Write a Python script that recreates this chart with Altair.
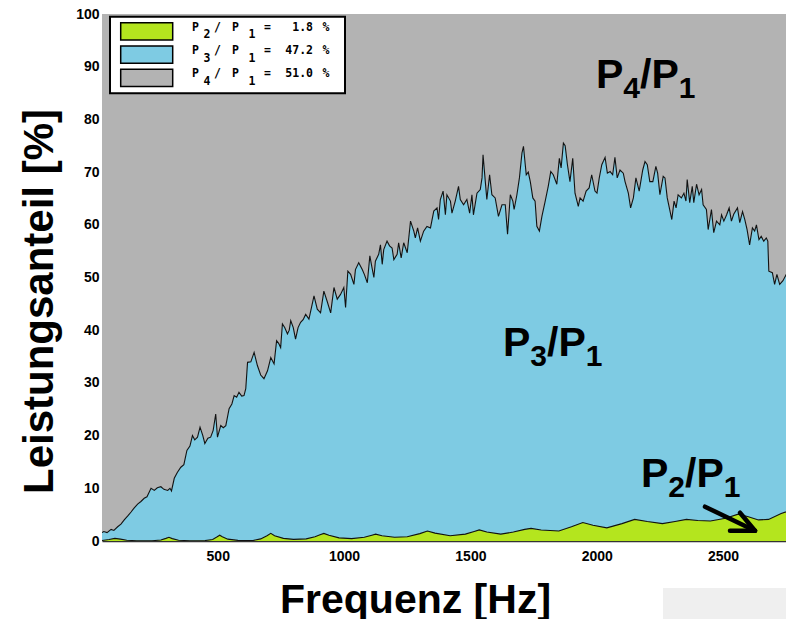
import altair as alt
import pandas as pd

# ---- data ----
# upper boundary of the P3/P1 band (cumulative P2+P3 share in %)
u_freq = [42, 49, 62, 78, 89, 104, 117, 130, 145, 157, 168, 183, 196, 209, 220, 236, 249, 261, 275, 287,
          302, 311, 317, 328, 340, 354, 366, 378, 390, 400, 409, 420, 430, 441, 449, 461, 472, 482, 492, 499,
          512, 522, 532, 545, 556, 565, 575, 584, 595, 604, 611, 618, 631, 644, 657, 670, 683, 697, 710, 723,
          733, 741, 749, 756, 765, 776, 783, 789, 799, 808, 818, 828, 838, 848, 861, 872, 881, 894, 907, 920,
          933, 947, 960, 973, 986, 999, 1006, 1015, 1026, 1039, 1045, 1058, 1072, 1081, 1092, 1102, 1110, 1118, 1124, 1137,
          1144, 1151, 1157, 1170, 1180, 1190, 1197, 1210, 1216, 1226, 1236, 1250, 1263, 1276, 1282, 1291, 1302, 1315, 1328, 1342,
          1355, 1368, 1374, 1381, 1392, 1401, 1407, 1421, 1427, 1440, 1453, 1460, 1473, 1486, 1497, 1506, 1512, 1526, 1539, 1546,
          1550, 1559, 1565, 1576, 1585, 1598, 1611, 1625, 1638, 1647, 1658, 1668, 1673, 1684, 1694, 1704, 1710, 1721, 1729, 1737,
          1747, 1756, 1763, 1773, 1783, 1796, 1808, 1818, 1828, 1842, 1852, 1859, 1868, 1875, 1884, 1894, 1905, 1914, 1927, 1934,
          1946, 1958, 1970, 1980, 1993, 2001, 2010, 2020, 2033, 2042, 2053, 2063, 2072, 2081, 2092, 2105, 2112, 2125, 2134, 2145,
          2155, 2168, 2182, 2191, 2200, 2210, 2222, 2234, 2241, 2250, 2263, 2270, 2279, 2290, 2297, 2306, 2314, 2322, 2335, 2345,
          2353, 2358, 2368, 2378, 2384, 2395, 2405, 2415, 2421, 2434, 2441, 2454, 2463, 2474, 2487, 2494, 2503, 2514, 2524, 2533,
          2542, 2557, 2566, 2577, 2586, 2595, 2605, 2616, 2625, 2632, 2642, 2651, 2661, 2671, 2677, 2681, 2695, 2704, 2713, 2724,
          2737, 2750, 2761, 2770, 2776]
u_val = [1.6, 1.8, 1.6, 2.2, 2.0, 2.7, 3.2, 4.0, 4.8, 5.5, 6.2, 7.0, 7.5, 8.1, 8.4, 10.0, 9.6, 10.1, 10.3, 9.8,
         9.6, 10.0, 9.5, 11.9, 13.0, 14.0, 14.5, 17.2, 18.0, 20.0, 19.2, 19.7, 21.6, 20.0, 18.5, 19.5, 19.7, 21.0, 24.1, 19.7,
         21.9, 21.5, 21.9, 25.1, 26.0, 27.6, 27.3, 28.2, 27.5, 27.6, 28.9, 33.9, 34.0, 35.8, 33.3, 31.5, 30.8, 32.3, 34.8, 33.6,
         38.0, 37.5, 36.7, 41.2, 40.5, 39.3, 40.0, 41.8, 40.5, 38.3, 40.5, 41.5, 42.0, 43.0, 42.1, 44.5, 46.5, 44.0, 43.3, 47.4,
         45.5, 43.3, 48.1, 45.9, 46.8, 48.1, 44.3, 51.2, 50.6, 48.7, 51.5, 52.8, 51.5, 50.5, 49.0, 54.1, 52.0, 50.0, 53.1, 54.4,
         56.2, 52.5, 55.3, 56.9, 56.0, 55.6, 53.4, 54.4, 56.6, 53.7, 56.6, 54.7, 60.7, 58.8, 57.5, 59.4, 56.9, 58.8, 59.7, 59.4,
         62.6, 63.2, 61.0, 64.8, 66.4, 61.9, 65.7, 64.5, 62.2, 64.5, 67.3, 64.8, 63.8, 64.8, 62.2, 65.7, 61.9, 66.0, 66.7, 68.9,
         73.3, 68.2, 64.8, 69.5, 65.7, 65.1, 61.6, 63.8, 63.8, 58.2, 65.7, 64.5, 62.9, 65.7, 68.9, 73.6, 74.9, 69.5, 70.0, 68.2,
         65.1, 64.5, 59.7, 58.8, 61.6, 64.5, 67.3, 70.1, 69.5, 67.7, 72.6, 70.8, 75.5, 75.0, 71.4, 68.2, 72.6, 66.0, 63.5, 65.1,
         64.5, 66.4, 67.0, 69.5, 66.4, 66.0, 68.9, 71.4, 72.8, 69.8, 70.1, 69.5, 72.8, 68.9, 70.4, 69.8, 68.2, 66.0, 63.2, 65.1,
         68.9, 66.4, 70.4, 72.0, 71.4, 68.2, 68.2, 71.1, 69.8, 65.7, 69.2, 68.9, 65.1, 62.6, 61.0, 64.5, 63.2, 65.7, 65.1, 66.0,
         64.5, 68.6, 64.2, 67.3, 64.2, 67.7, 65.7, 66.7, 63.8, 62.9, 59.1, 62.9, 58.5, 60.7, 60.0, 61.9, 60.7, 61.9, 63.2, 60.7,
         62.0, 63.2, 60.4, 62.5, 61.0, 59.1, 56.2, 59.4, 58.8, 60.0, 57.2, 57.8, 56.9, 57.5, 56.9, 51.2, 50.9, 48.7, 50.6, 48.7,
         49.4, 50.6, 46.5, 47.8, 47.0]

# P2/P1 share in %
g_freq = [42, 70, 93, 115, 140, 180, 240, 275, 295, 307, 320, 345, 390, 450, 480, 498, 508, 518, 540, 580,
          640, 670, 695, 710, 725, 760, 800, 850, 885, 905, 920, 940, 980, 1030, 1080, 1110, 1125, 1150, 1200, 1250,
          1300, 1330, 1360, 1420, 1480, 1515, 1535, 1565, 1620, 1670, 1715, 1740, 1780, 1850, 1900, 1945, 1985, 2040, 2100, 2150,
          2200, 2260, 2310, 2355, 2400, 2450, 2510, 2560, 2600, 2640, 2680, 2730, 2776]
g_val = [0.1, 0.3, 0.5, 0.35, 0.15, 0.05, 0.05, 0.2, 0.5, 0.7, 0.45, 0.15, 0.05, 0.08, 0.3, 0.8, 1.1, 0.8, 0.35, 0.12,
         0.1, 0.4, 1.0, 1.45, 1.0, 0.5, 0.3, 0.4, 0.8, 1.2, 1.45, 1.1, 0.6, 0.45, 0.7, 1.1, 1.3, 1.0, 0.7, 0.8,
         1.4, 1.9, 1.5, 1.0, 1.3, 1.8, 2.1, 1.7, 1.3, 1.7, 2.2, 2.4, 2.1, 1.9, 2.7, 3.5, 3.0, 2.5, 3.3, 4.1,
         3.7, 3.3, 3.7, 4.1, 3.9, 3.8, 4.3, 5.1, 4.6, 4.0, 4.1, 5.2, 6.0]

x_ticks = [500, 1000, 1500, 2000, 2500]
y_ticks = [0, 10, 20, 30, 40, 50, 60, 70, 80, 90, 100]

leg_sub = ["2", "3", "4"]
leg_value = ["1.8", "47.2", "51.0"]
leg_color = ["#b4e51e", "#7ecbe3", "#b3b3b3"]

C_GREY, C_BLUE, C_GREEN = "#b3b3b3", "#7ecbe3", "#b4e51e"
FONT = "Liberation Sans"
MONO = "DejaVu Sans Mono"

up = pd.DataFrame({"f": u_freq, "v": u_val})
gr = pd.DataFrame({"f": g_freq, "v": g_val})
one = pd.DataFrame({"a": [0]})

xenc = alt.X("f:Q", scale=alt.Scale(domain=[42, 2749], nice=False, zero=False),
             axis=alt.Axis(values=x_ticks, format="d", title="Frequenz [Hz]", ticks=False, grid=False,
                           labelFont=FONT, labelFontSize=14, labelFontWeight="bold", labelColor="black",
                           labelPadding=8, domainColor="#333333", domainWidth=1.5,
                           titleFont=FONT, titleFontSize=41, titleFontWeight="bold", titleColor="black",
                           titleX=313, titleY=71, titleBaseline="alphabetic", titleAlign="center"))
yenc = alt.Y("v:Q", scale=alt.Scale(domain=[0, 100], nice=False),
             axis=alt.Axis(values=y_ticks, format="d", title="Leistungsanteil [%]", ticks=False, grid=False,
                           labelFont=FONT, labelFontSize=14, labelFontWeight="bold", labelColor="black",
                           labelPadding=3, domainColor="#777777",
                           titleFont=FONT, titleFontSize=42, titleFontWeight="bold", titleColor="black",
                           titleAngle=270, titleX=-50, titleY=287, titleBaseline="alphabetic",
                           titleAlign="center"))

# slide background patch (bottom right)
bg = alt.Chart(one).mark_rect(color="#efefef").encode(
    x=alt.value(561), x2=alt.value(700), y=alt.value(574), y2=alt.value(640))

grey = alt.Chart(up).mark_area(color=C_GREY, clip=True).encode(x=xenc, y=yenc, y2=alt.datum(100))
blue = alt.Chart(up).mark_area(color=C_BLUE, clip=True).encode(x=xenc, y=yenc)
green = alt.Chart(gr).mark_area(color=C_GREEN, clip=True).encode(x=xenc, y=yenc)
uline = alt.Chart(up).mark_line(color="#111111", strokeWidth=1.1, clip=True).encode(x=xenc, y=yenc)
gline = alt.Chart(gr).mark_line(color="#111111", strokeWidth=1.1, clip=True).encode(x=xenc, y=yenc)

layers = [bg, grey, blue, green, uline, gline]


def txt(x, y, s, size, font=FONT, align="left", weight="bold"):
    return alt.Chart(one).mark_text(text=s, font=font, fontSize=size, fontWeight=weight,
                                    align=align, baseline="alphabetic", color="black").encode(
        x=alt.value(x), y=alt.value(y))


def label(x0, base, sub, big=41, small=30):
    out = []
    x = x0
    out.append(txt(x, base, "P", big)); x += 0.667 * big
    out.append(txt(x, base + 10, sub, small)); x += 0.556 * small
    out.append(txt(x, base, "/P", big)); x += (0.278 + 0.667) * big
    out.append(txt(x, base + 10, "1", small))
    return out


layers += label(494, 74, "4")
layers += label(401, 342, "3")
layers += label(539, 473, "2")

# arrow for P2/P1
for (xa, ya, xb, yb) in [(603, 492.7, 653, 516.7), (628, 516.7, 653, 516.7), (638, 498.7, 653, 516.7)]:
    layers.append(alt.Chart(one).mark_rule(color="black", strokeWidth=4.5, strokeCap="round").encode(
        x=alt.value(xa), y=alt.value(ya), x2=alt.value(xb), y2=alt.value(yb)))

# legend box
layers.append(alt.Chart(one).mark_rect(fill="white", stroke="black", strokeWidth=2).encode(
    x=alt.value(8), x2=alt.value(243), y=alt.value(2.7), y2=alt.value(79.3)))
for i in range(3):
    y0 = 8.7 + 23.3 * i
    layers.append(alt.Chart(one).mark_rect(fill=leg_color[i], stroke="black", strokeWidth=1.5).encode(
        x=alt.value(18.7), x2=alt.value(70.7), y=alt.value(y0), y2=alt.value(y0 + 17.3)))
    bm = 16.7 + 23.3 * i
    bs = 24.3 + 23.3 * i
    layers.append(txt(93.5, bm, "P", 11.5, MONO, "center"))
    layers.append(txt(105, bs, leg_sub[i], 11.5, MONO, "center"))
    layers.append(txt(115.5, bm, "/", 11.5, MONO, "center"))
    layers.append(txt(133.5, bm, "P", 11.5, MONO, "center"))
    layers.append(txt(150, bs, "1", 11.5, MONO, "center"))
    layers.append(txt(165.5, bm, "=", 11.5, MONO, "center"))
    layers.append(txt(211, bm, leg_value[i], 11.5, MONO, "right"))
    layers.append(txt(224, bm, "%", 11.5, MONO, "center"))

chart = alt.layer(*layers).properties(
    width=684, height=527,
    autosize=alt.AutoSizeParams(type="none"),
    padding={"left": 94, "top": 6, "right": 0, "bottom": 78},
    background="white",
).configure_view(stroke=None)

chart.save("out.html", embed_options={"renderer": "svg", "actions": False})
